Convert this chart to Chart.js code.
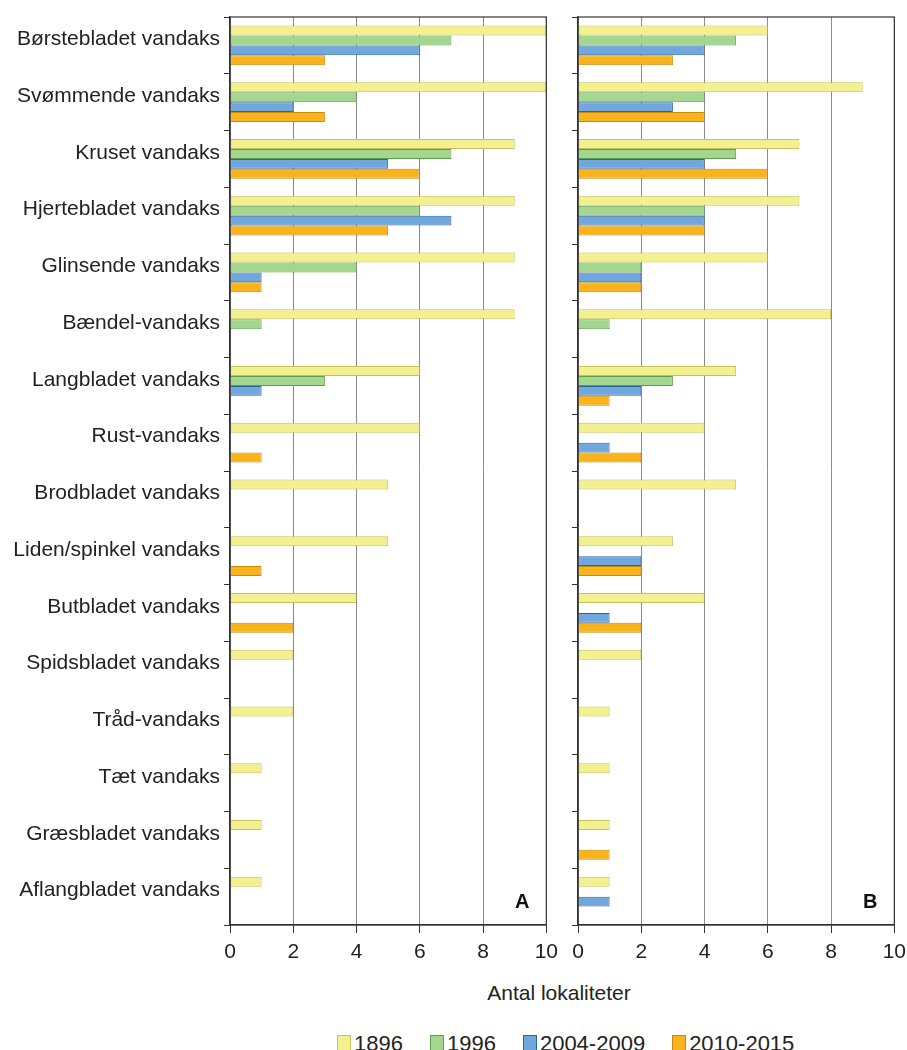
<!DOCTYPE html>
<html>
<head>
<meta charset="utf-8">
<script src="https://cdn.jsdelivr.net/npm/chart.js@4"></script>
<style>
  body { margin: 0; background: #fff; font-family: "Liberation Sans", Arial, sans-serif; overflow: hidden; }
  #wrapA { position: absolute; left: 0; top: 0; width: 565px; height: 975px; }
  #wrapB { position: absolute; left: 562px; top: 0; width: 351px; height: 975px; }
  #xtitle { position: absolute; left: 409px; width: 300px; top: 981px; text-align: center; font-size: 21px; color: #222; }
  #legend { position: absolute; left: 337px; top: 1031px; display: flex; font-size: 22px; color: #222; }
  #legend span.item { display: flex; align-items: center; margin-right: 27px; }
  #legend span.box { display: inline-block; width: 12px; height: 16px; margin-right: 3px; border: 1px solid; }
</style>
</head>
<body>
<div id="wrapA"><canvas id="chartA"></canvas></div>
<div id="wrapB"><canvas id="chartB"></canvas></div>
<div id="xtitle">Antal lokaliteter</div>
<div id="legend"></div>
<script>
const species = [
  "Børstebladet vandaks", "Svømmende vandaks", "Kruset vandaks", "Hjertebladet vandaks",
  "Glinsende vandaks", "Bændel-vandaks", "Langbladet vandaks", "Rust-vandaks",
  "Brodbladet vandaks", "Liden/spinkel vandaks", "Butbladet vandaks", "Spidsbladet vandaks",
  "Tråd-vandaks", "Tæt vandaks", "Græsbladet vandaks", "Aflangbladet vandaks"
];
const periods = ["1896", "1996", "2004-2009", "2010-2015"];
const xTicks = [0, 2, 4, 6, 8, 10];

// panel A
const a1896 = [10, 10, 9, 9, 9, 9, 6, 6, 5, 5, 4, 2, 2, 1, 1, 1];
const a1996 = [7, 4, 7, 6, 4, 1, 3, null, null, null, null, null, null, null, null, null];
const a2004 = [6, 2, 5, 7, 1, null, 1, null, null, null, null, null, null, null, null, null];
const a2010 = [3, 3, 6, 5, 1, null, null, 1, null, 1, 2, null, null, null, null, null];

// panel B
const b1896 = [6, 9, 7, 7, 6, 8, 5, 4, 5, 3, 4, 2, 1, 1, 1, 1];
const b1996 = [5, 4, 5, 4, 2, 1, 3, null, null, null, null, null, null, null, null, null];
const b2004 = [4, 3, 4, 4, 2, null, 2, 1, null, 2, 1, null, null, null, null, 1];
const b2010 = [3, 4, 6, 4, 2, null, 1, 2, null, 2, 2, null, null, null, 1, null];

const fills = ["#f3f08f", "#a3d78f", "#70a7dc", "#f9b41d"];
const borders = ["#c6c25a", "#5f9f4c", "#2c64a2", "#c88a08"];
const fontFamily = "'Liberation Sans', Arial, sans-serif";

function makeSets(series) {
  return series.map((d, i) => ({
    label: periods[i],
    data: d,
    backgroundColor: fills[i],
    borderColor: borders[i],
    borderWidth: 1,
    borderSkipped: false,
    categoryPercentage: 0.7,
    barPercentage: 1.0
  }));
}

const framePlugin = {
  id: "frame",
  afterDraw(chart, args, opts) {
    const { ctx, chartArea: c } = chart;
    ctx.save();
    ctx.strokeStyle = "#333";
    ctx.lineWidth = 1.2;
    ctx.strokeRect(c.left, c.top, c.right - c.left, c.bottom - c.top);
    ctx.fillStyle = "#111";
    ctx.font = "bold 20px " + fontFamily;
    ctx.textAlign = "right";
    ctx.textBaseline = "middle";
    ctx.fillText(opts.letter, c.right - 17, c.bottom - 23);
    ctx.restore();
  }
};

function makeChart(id, series, letter, yWidth, showLabels, padRight) {
  new Chart(document.getElementById(id), {
    type: "bar",
    data: { labels: species, datasets: makeSets(series) },
    plugins: [framePlugin],
    options: {
      indexAxis: "y",
      responsive: true,
      maintainAspectRatio: false,
      animation: false,
      layout: { padding: { top: 17, right: padRight, left: 0, bottom: 0 } },
      plugins: {
        legend: { display: false },
        tooltip: { enabled: false },
        frame: { letter: letter }
      },
      scales: {
        x: {
          min: 0, max: 10,
          afterBuildTicks: s => { s.ticks = xTicks.map(v => ({ value: v })); },
          grid: { color: "#8a8a8a", lineWidth: 1, tickLength: 8, tickColor: "#333" },
          border: { color: "#333", width: 1.2 },
          ticks: { color: "#222", font: { size: 21, family: fontFamily }, padding: 7, maxRotation: 0 },
          afterFit: s => { s.height = 50; }
        },
        y: {
          grid: { drawOnChartArea: false, tickLength: 6, tickColor: "#333", offset: true },
          border: { color: "#333", width: 1.2 },
          ticks: {
            display: showLabels,
            color: "#222",
            font: { size: 21, family: fontFamily },
            labelOffset: -6,
            padding: 4,
            autoSkip: false
          },
          afterFit: s => { s.width = yWidth; }
        }
      }
    }
  });
}

makeChart("chartA", [a1896, a1996, a2004, a2010], "A", 230, true, 16);
makeChart("chartB", [b1896, b1996, b2004, b2010], "B", 16, false, 7);

const legend = document.getElementById("legend");
periods.forEach((p, i) => {
  const item = document.createElement("span");
  item.className = "item";
  const box = document.createElement("span");
  box.className = "box";
  box.style.background = fills[i];
  box.style.borderColor = borders[i];
  item.appendChild(box);
  item.appendChild(document.createTextNode(p));
  legend.appendChild(item);
});
</script>
</body>
</html>
